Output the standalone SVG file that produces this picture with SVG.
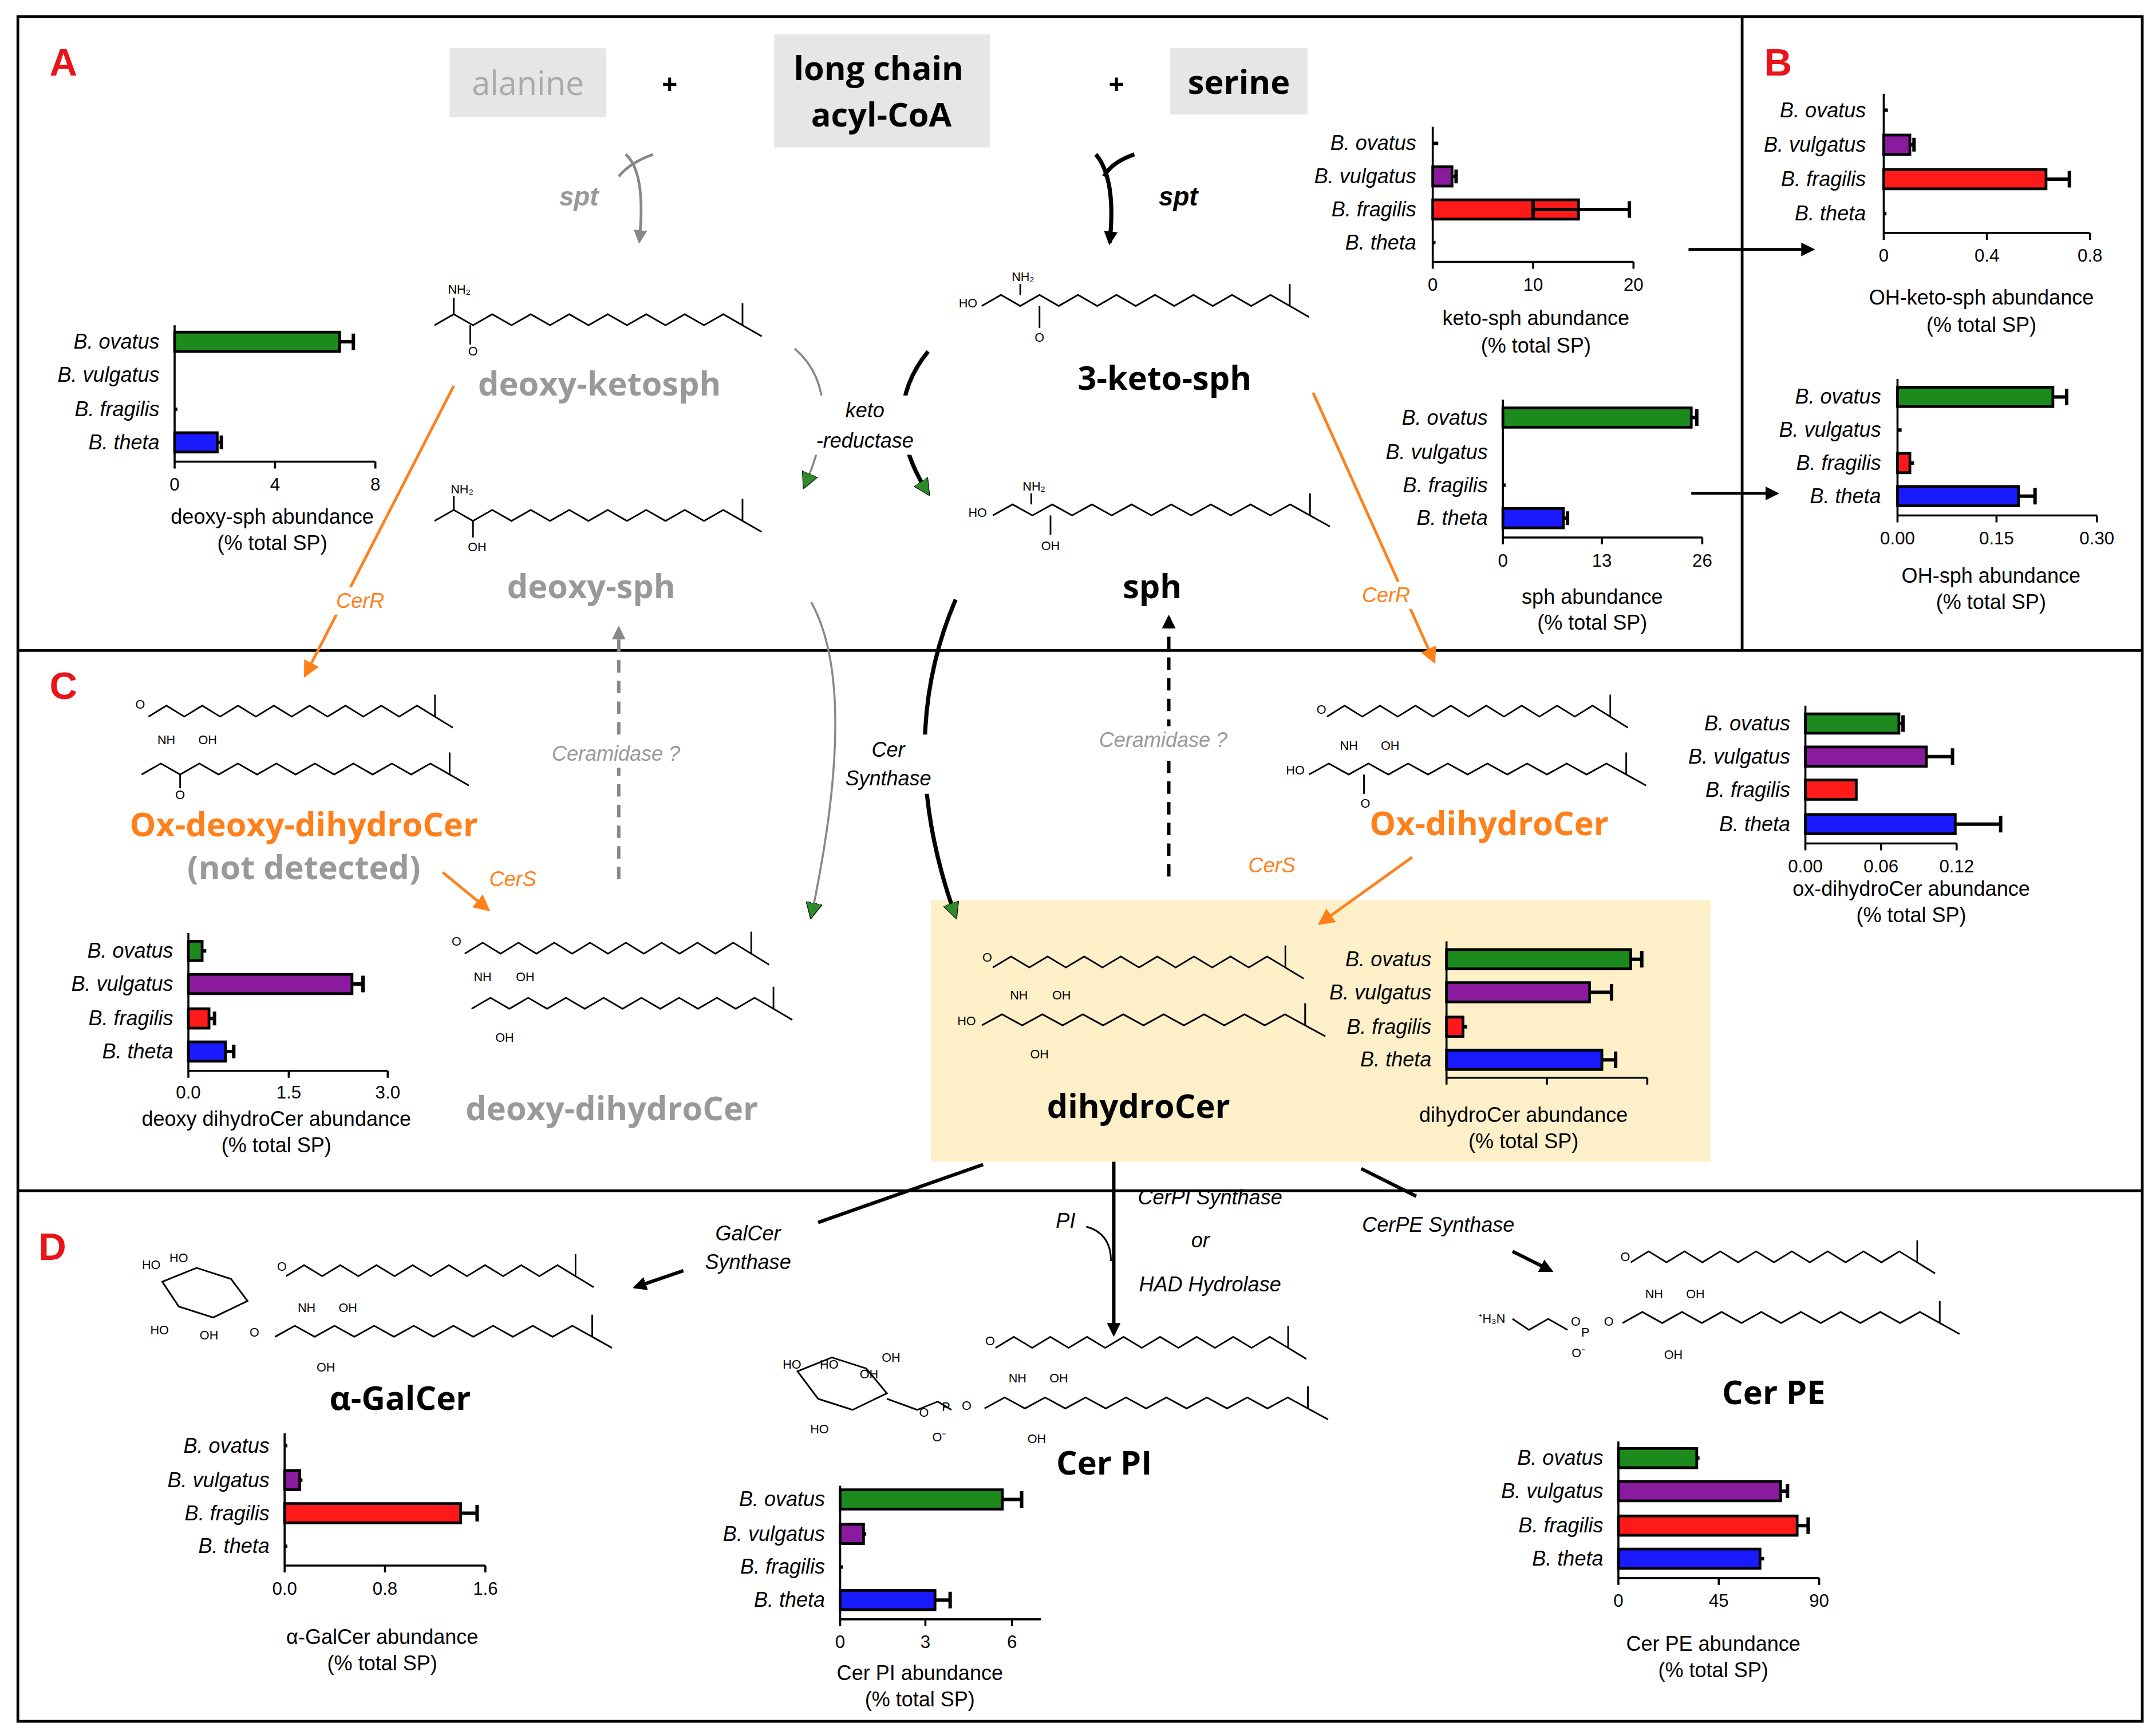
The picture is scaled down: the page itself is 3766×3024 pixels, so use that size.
<svg xmlns="http://www.w3.org/2000/svg" xmlns:xlink="http://www.w3.org/1999/xlink" width="3766" height="3024" viewBox="0 0 3766 3024">
<style>
.lb{font:italic 15px "Liberation Sans",Arial,sans-serif;text-anchor:end}
.tk{font:13px "Liberation Sans",Arial,sans-serif;text-anchor:middle}
.tt{font:15px "Liberation Sans",Arial,sans-serif;text-anchor:middle}
.ax{stroke:#000;stroke-width:1.5;fill:none}
.bar{stroke:#000;stroke-width:2}
.er{stroke:#000;stroke-width:2.5;fill:none}
.g{fill:#1d8a1d}.p{fill:#8a1a9e}.r{fill:#ff1a1a}.b{fill:#1a1aff}
.nm{font:bold 24px "Open Sans","DejaVu Sans",sans-serif;text-anchor:middle}
.pl{font:bold 28px "Liberation Sans",sans-serif}
.en{font:italic 15px "Liberation Sans",Arial,sans-serif;text-anchor:middle}
.sp{font:italic bold 19px "Liberation Sans",Arial,sans-serif;text-anchor:middle}
.at{font:9px "Liberation Sans",Arial,sans-serif;text-anchor:middle}
.ch{stroke:#000;stroke-width:1.2;fill:none}
.or{stroke:#ff7f1a;stroke-width:2;fill:none}
.wb{fill:#fff}
</style>
<defs>
<path id="c16" d="M0,0 l14,-8 14,8 14,-8 14,8 14,-8 14,8 14,-8 14,8 14,-8 14,8 14,-8 14,8 14,-8 14,8 14,-8 14,8 l0,-16 m0,16 l14,8" class="ch"/>
<marker id="ak" markerWidth="10" markerHeight="10" refX="8" refY="5" orient="auto" markerUnits="userSpaceOnUse"><path d="M0,0 L10,5 L0,10z" fill="#000"/></marker>
<marker id="ag" markerWidth="10" markerHeight="10" refX="8" refY="5" orient="auto" markerUnits="userSpaceOnUse"><path d="M0,0 L10,5 L0,10z" fill="#888"/></marker>
<marker id="ao" markerWidth="12" markerHeight="12" refX="10" refY="6" orient="auto" markerUnits="userSpaceOnUse"><path d="M0,0 L12,6 L0,12z" fill="#ff7f1a"/></marker>
<marker id="agr" markerWidth="12" markerHeight="12" refX="10" refY="6" orient="auto" markerUnits="userSpaceOnUse"><path d="M0,0 L12,6 L0,12z" fill="#2d8a2d" stroke="#000" stroke-width="0.5"/></marker>
</defs>
<rect width="3766" height="3024" fill="#fff"/>
<g transform="scale(2.4018,2.4076)">
<g id="frame" fill="none" stroke="#000" stroke-width="2">
<rect x="13" y="12" width="1545" height="1237"/>
<line x1="13" y1="472" x2="1558" y2="472"/><line x1="13" y1="864" x2="1558" y2="864"/><line x1="1267" y1="12" x2="1267" y2="472"/>
</g>
<g id="panels" fill="#e8141a" class="pl"><text x="36" y="55" class="pl">A</text><text x="1283" y="55" class="pl">B</text><text x="36" y="507" class="pl">C</text><text x="28" y="914" class="pl">D</text></g>
<rect x="677" y="653" width="567" height="190" fill="#fdf0c9"/>
<g id="reactants" font-family="Open Sans, DejaVu Sans, sans-serif" font-size="24" text-anchor="middle">
<rect x="327" y="35" width="114" height="50" fill="#e6e6e6"/><text x="384" y="69" fill="#aaa">alanine</text>
<text x="487" y="68" font-weight="bold" font-size="20">+</text>
<rect x="563" y="25" width="157" height="82" fill="#e6e6e6"/><text x="639" y="58" font-weight="bold">long chain</text><text x="641" y="92" font-weight="bold">acyl-CoA</text>
<text x="812" y="68" font-weight="bold" font-size="20">+</text>
<rect x="851" y="35" width="100" height="48" fill="#e6e6e6"/><text x="901" y="68" font-weight="bold">serine</text>
</g>
<g id="names">
<text x="436" y="287" class="nm" fill="#999">deoxy-ketosph</text>
<text x="847" y="283" class="nm">3-keto-sph</text>
<text x="430" y="434" class="nm" fill="#999">deoxy-sph</text>
<text x="838" y="434" class="nm">sph</text>
<text x="221" y="607" class="nm" fill="#ff7f1a">Ox-deoxy-dihydroCer</text>
<text x="221" y="638" class="nm" fill="#999" font-size="21">(not detected)</text>
<text x="1083" y="606" class="nm" fill="#ff7f1a">Ox-dihydroCer</text>
<text x="445" y="813" class="nm" fill="#999">deoxy-dihydroCer</text>
<text x="828" y="811" class="nm">dihydroCer</text>
<text x="291" y="1023" class="nm">α-GalCer</text>
<text x="803" y="1070" class="nm">Cer PI</text>
<text x="1290" y="1019" class="nm">Cer PE</text>
</g>
<g id="structures" class="at">
<use href="#c16" transform="translate(316,236)"/><line x1="330" y1="228" x2="330" y2="216" class="ch"/><text x="334" y="213">NH₂</text><line x1="342" y1="236" x2="342" y2="250" class="ch"/><text x="344" y="258">O</text>
<text x="704" y="223">HO</text><use href="#c16" transform="translate(714,222)"/><line x1="742" y1="214" x2="742" y2="206" class="ch"/><text x="744" y="204">NH₂</text><line x1="756" y1="222" x2="756" y2="238" class="ch"/><text x="756" y="248">O</text>
<use href="#c16" transform="translate(316,378)"/><line x1="330" y1="370" x2="330" y2="360" class="ch"/><text x="336" y="358">NH₂</text><line x1="344" y1="378" x2="344" y2="390" class="ch"/><text x="347" y="400">OH</text>
<text x="711" y="375">HO</text><use href="#c16" transform="translate(722,374) scale(1.03,1)"/><line x1="750" y1="366" x2="750" y2="358" class="ch"/><text x="752" y="356">NH₂</text><line x1="764" y1="374" x2="764" y2="388" class="ch"/><text x="764" y="399">OH</text>
<use href="#c16" transform="translate(108,520) scale(0.93,1)"/><text x="102" y="514">O</text><text x="121" y="540">NH</text><text x="151" y="540">OH</text><use href="#c16" transform="translate(103,562) scale(1.0,1)"/><line x1="131" y1="562" x2="131" y2="572" class="ch"/><text x="131" y="580">O</text>
<use href="#c16" transform="translate(338,692) scale(0.93,1)"/><text x="332" y="686">O</text><text x="351" y="712">NH</text><text x="382" y="712">OH</text><use href="#c16" transform="translate(343,732) scale(0.98,1)"/><text x="367" y="756">OH</text>
<use href="#c16" transform="translate(965,520) scale(0.92,1)"/><text x="961" y="518">O</text><text x="981" y="544">NH</text><text x="1011" y="544">OH</text><text x="942" y="562">HO</text><use href="#c16" transform="translate(952,562) scale(1.03,1)"/><line x1="992" y1="562" x2="992" y2="576" class="ch"/><text x="993" y="586">O</text>
<use href="#c16" transform="translate(722,702) scale(0.95,1)"/><text x="718" y="698">O</text><text x="741" y="725">NH</text><text x="772" y="725">OH</text><text x="703" y="744">HO</text><use href="#c16" transform="translate(714,744) scale(1.05,1)"/><text x="756" y="768">OH</text>
<use href="#c16" transform="translate(208,926) scale(0.94,1)"/><text x="205" y="922">O</text><text x="223" y="952">NH</text><text x="253" y="952">OH</text><use href="#c16" transform="translate(200,970) scale(1.03,1)"/><text x="237" y="995">OH</text><text x="185" y="970">O</text>
<path d="M118,930 l25,-10 25,8 l12,16 -25,12 -25,-8z" class="ch"/><text x="110" y="921">HO</text><text x="130" y="916">HO</text><text x="116" y="968">HO</text><text x="152" y="972">OH</text>
<use href="#c16" transform="translate(724,978) scale(0.95,1)"/><text x="720" y="976">O</text><text x="740" y="1003">NH</text><text x="770" y="1003">OH</text><use href="#c16" transform="translate(716,1022) scale(1.05,1)"/><text x="754" y="1047">OH</text>
<path d="M580,995 l25,-10 25,8 l15,18 -25,12 -25,-8z" class="ch"/><path d="M645,1015 l22,8 15,-6 10,6" class="ch"/><text x="576" y="993">HO</text><text x="603" y="993">HO</text><text x="632" y="1000">OH</text><text x="648" y="988">OH</text><text x="596" y="1040">HO</text><text x="672" y="1028">O</text><text x="688" y="1024">P</text><text x="683" y="1046">O⁻</text><text x="703" y="1023">O</text>
<use href="#c16" transform="translate(1186,916) scale(0.93,1)"/><text x="1182" y="915">O</text><text x="1203" y="942">NH</text><text x="1233" y="942">OH</text><use href="#c16" transform="translate(1180,960) scale(1.03,1)"/><text x="1217" y="986">OH</text>
<text x="1085" y="960">⁺H₃N</text><path d="M1100,957 l12,8 14,-8 14,8" class="ch"/><text x="1146" y="962">O</text><text x="1153" y="970">P</text><text x="1148" y="985">O⁻</text><text x="1170" y="962">O</text>
</g>
<g id="connectors" font-family="Liberation Sans, Arial, sans-serif">
<path d="M455,112 Q470,125 465,175" stroke="#888" stroke-width="2" fill="none" marker-end="url(#ag)"/><path d="M475,112 Q458,118 450,128" stroke="#888" stroke-width="2" fill="none"/>
<text x="421" y="149" class="sp" fill="#999">spt</text>
<path d="M797,112 Q812,130 807,176" stroke="#000" stroke-width="3" fill="none" marker-end="url(#ak)"/><path d="M825,112 Q808,118 803,128" stroke="#000" stroke-width="3" fill="none"/>
<text x="857" y="149" class="sp">spt</text>
<path d="M578,253 Q615,285 585,353" stroke="#888" stroke-width="1.5" fill="none" marker-end="url(#agr)"/>
<path d="M675,255 Q638,300 675,358" stroke="#000" stroke-width="3" fill="none" marker-end="url(#agr)"/>
<rect class="wb" x="592" y="287" width="72" height="43"/>
<text x="629" y="303" class="en">keto</text><text x="629" y="325" class="en">-reductase</text>
<path d="M590,437 Q625,500 590,665" stroke="#888" stroke-width="1.5" fill="none" marker-end="url(#agr)"/>
<path d="M695,435 Q650,540 695,665" stroke="#000" stroke-width="3" fill="none" marker-end="url(#agr)"/>
<rect class="wb" x="612" y="533" width="68" height="43"/>
<text x="646" y="549" class="en">Cer</text><text x="646" y="570" class="en">Synthase</text>
<line x1="330" y1="280" x2="222" y2="490" class="or" marker-end="url(#ao)"/><rect class="wb" x="243" y="426" width="38" height="20"/><text x="262" y="441" class="en" fill="#ff7f1a">CerR</text>
<line x1="955" y1="285" x2="1043" y2="480" class="or" marker-end="url(#ao)"/><rect class="wb" x="989" y="422" width="38" height="20"/><text x="1008" y="437" class="en" fill="#ff7f1a">CerR</text>
<line x1="322" y1="633" x2="355" y2="660" class="or" marker-end="url(#ao)"/><text x="373" y="643" class="en" fill="#ff7f1a">CerS</text>
<line x1="1027" y1="622" x2="960" y2="670" class="or" marker-end="url(#ao)"/><text x="925" y="633" class="en" fill="#ff7f1a">CerS</text>
<line x1="450" y1="638" x2="450" y2="456" stroke="#888" stroke-width="2.5" stroke-dasharray="9,6" marker-end="url(#ag)"/><rect class="wb" x="400" y="537" width="96" height="20"/><text x="448" y="552" class="en" fill="#999">Ceramidase ?</text>
<line x1="850" y1="636" x2="850" y2="448" stroke="#000" stroke-width="2.5" stroke-dasharray="9,6" marker-end="url(#ak)"/><rect class="wb" x="798" y="527" width="96" height="20"/><text x="846" y="542" class="en" fill="#999">Ceramidase ?</text>
<line x1="1228" y1="181" x2="1318" y2="181" stroke="#000" stroke-width="2" marker-end="url(#ak)"/>
<line x1="1230" y1="358" x2="1292" y2="358" stroke="#000" stroke-width="2" marker-end="url(#ak)"/>
<line x1="715" y1="845" x2="595" y2="887" stroke="#000" stroke-width="2.5"/><line x1="497" y1="922" x2="462" y2="934" stroke="#000" stroke-width="2.5" marker-end="url(#ak)"/>
<text x="544" y="900" class="en">GalCer</text><text x="544" y="921" class="en">Synthase</text>
<line x1="810" y1="843" x2="810" y2="968" stroke="#000" stroke-width="2.5" marker-end="url(#ak)"/>
<path d="M790,890 Q808,895 808,915" stroke="#000" stroke-width="1.2" fill="none"/><text x="775" y="891" class="en">PI</text>
<text x="880" y="874" class="en">CerPI Synthase</text><text x="873" y="905" class="en">or</text><text x="880" y="937" class="en">HAD Hydrolase</text>
<line x1="990" y1="848" x2="1030" y2="868" stroke="#000" stroke-width="2.5"/><line x1="1100" y1="908" x2="1128" y2="922" stroke="#000" stroke-width="2.5" marker-end="url(#ak)"/>
<text x="1046" y="894" class="en">CerPE Synthase</text>
</g>
<g id="chart-keto">
<text class="lb" x="1030" y="109">B. ovatus</text><text class="lb" x="1030" y="133">B. vulgatus</text><text class="lb" x="1030" y="157">B. fragilis</text><text class="lb" x="1030" y="181">B. theta</text>
<rect class="bar p" x="1042" y="121" width="14" height="14"/><rect class="bar r" x="1042" y="145" width="106" height="14"/>
<path class="er" d="M1042,104h4M1056,128h3v-5v10M1115,152h70M1185,146v12M1115,146v12M1042,176h2"/>
<path class="ax" d="M1042,92V190H1188M1042,190v5M1115,190v5M1188,190v5"/>
<text class="tk" x="1042" y="211">0</text><text class="tk" x="1115" y="211">10</text><text class="tk" x="1188" y="211">20</text>
<text class="tt" x="1117" y="236">keto-sph abundance</text><text class="tt" x="1117" y="256">(% total SP)</text>
</g>
<g id="chart-ohketo">
<text class="lb" x="1357" y="85">B. ovatus</text><text class="lb" x="1357" y="110">B. vulgatus</text><text class="lb" x="1357" y="135">B. fragilis</text><text class="lb" x="1357" y="160">B. theta</text>
<rect class="bar p" x="1370" y="98" width="19" height="14"/><rect class="bar r" x="1370" y="123" width="118" height="14"/>
<path class="er" d="M1370,80h3M1389,105h3v-5v10M1488,130h17M1505,124v12M1370,155h2"/>
<path class="ax" d="M1370,68V169H1520M1370,169v5M1445,169v5M1520,169v5"/>
<text class="tk" x="1370" y="190">0</text><text class="tk" x="1445" y="190">0.4</text><text class="tk" x="1520" y="190">0.8</text>
<text class="tt" x="1441" y="221">OH-keto-sph abundance</text><text class="tt" x="1441" y="241">(% total SP)</text>
</g>
<g id="chart-deoxysph">
<text class="lb" x="116" y="253">B. ovatus</text><text class="lb" x="116" y="277">B. vulgatus</text><text class="lb" x="116" y="302">B. fragilis</text><text class="lb" x="116" y="326">B. theta</text>
<rect class="bar g" x="127" y="241" width="120" height="14"/><rect class="bar b" x="127" y="314" width="31" height="14"/>
<path class="er" d="M247,248h10M257,242v12M158,321h3M161,316v10M127,297h2"/>
<path class="ax" d="M127,236V335H273M127,335v5M200,335v5M273,335v5"/>
<text class="tk" x="127" y="356">0</text><text class="tk" x="200" y="356">4</text><text class="tk" x="273" y="356">8</text>
<text class="tt" x="198" y="380">deoxy-sph abundance</text><text class="tt" x="198" y="399">(% total SP)</text>
</g>
<g id="chart-sph">
<text class="lb" x="1082" y="308">B. ovatus</text><text class="lb" x="1082" y="333">B. vulgatus</text><text class="lb" x="1082" y="357">B. fragilis</text><text class="lb" x="1082" y="381">B. theta</text>
<rect class="bar g" x="1093" y="296" width="137" height="14"/><rect class="bar b" x="1093" y="369" width="44" height="14"/>
<path class="er" d="M1230,303h4M1234,297v12M1137,376h3M1140,371v10M1093,352h2"/>
<path class="ax" d="M1093,290V390H1238M1093,390v5M1165,390v5M1238,390v5"/>
<text class="tk" x="1093" y="411">0</text><text class="tk" x="1165" y="411">13</text><text class="tk" x="1238" y="411">26</text>
<text class="tt" x="1158" y="438">sph abundance</text><text class="tt" x="1158" y="457">(% total SP)</text>
</g>
<g id="chart-ohsph">
<text class="lb" x="1368" y="293">B. ovatus</text><text class="lb" x="1368" y="317">B. vulgatus</text><text class="lb" x="1368" y="341">B. fragilis</text><text class="lb" x="1368" y="365">B. theta</text>
<rect class="bar g" x="1380" y="281" width="113" height="14"/><rect class="bar r" x="1380" y="329" width="9" height="14"/><rect class="bar b" x="1380" y="353" width="88" height="14"/>
<path class="er" d="M1493,288h10M1503,282v12M1380,312h3M1389,336h3M1468,360h12M1480,354v12"/>
<path class="ax" d="M1380,275V374H1525M1380,374v5M1452,374v5M1525,374v5"/>
<text class="tk" x="1380" y="395">0.00</text><text class="tk" x="1452" y="395">0.15</text><text class="tk" x="1525" y="395">0.30</text>
<text class="tt" x="1448" y="423">OH-sph abundance</text><text class="tt" x="1448" y="442">(% total SP)</text>
</g>
<g id="chart-oxdhc">
<text class="lb" x="1302" y="530">B. ovatus</text><text class="lb" x="1302" y="554">B. vulgatus</text><text class="lb" x="1302" y="578">B. fragilis</text><text class="lb" x="1302" y="603">B. theta</text>
<rect class="bar g" x="1313" y="518" width="68" height="14"/><rect class="bar p" x="1313" y="542" width="88" height="14"/><rect class="bar r" x="1313" y="566" width="37" height="14"/><rect class="bar b" x="1313" y="591" width="109" height="14"/>
<path class="er" d="M1381,525h3M1384,519v12M1401,549h19M1420,543v12M1422,598h33M1455,592v12"/>
<path class="ax" d="M1313,512V612H1423M1313,612v5M1368,612v5M1423,612v5"/>
<text class="tk" x="1313" y="633">0.00</text><text class="tk" x="1368" y="633">0.06</text><text class="tk" x="1423" y="633">0.12</text>
<text class="tt" x="1390" y="650">ox-dihydroCer abundance</text><text class="tt" x="1390" y="669">(% total SP)</text>
</g>
<g id="chart-deoxydhc">
<text class="lb" x="126" y="695">B. ovatus</text><text class="lb" x="126" y="719">B. vulgatus</text><text class="lb" x="126" y="744">B. fragilis</text><text class="lb" x="126" y="768">B. theta</text>
<rect class="bar g" x="137" y="683" width="10" height="14"/><rect class="bar p" x="137" y="707" width="119" height="14"/><rect class="bar r" x="137" y="732" width="15" height="14"/><rect class="bar b" x="137" y="756" width="27" height="14"/>
<path class="er" d="M147,690h3M256,714h8M264,708v12M152,739h4M156,734v10M164,763h6M170,758v10"/>
<path class="ax" d="M137,677V777H282M137,777v5M210,777v5M282,777v5"/>
<text class="tk" x="137" y="797">0.0</text><text class="tk" x="210" y="797">1.5</text><text class="tk" x="282" y="797">3.0</text>
<text class="tt" x="201" y="817">deoxy dihydroCer abundance</text><text class="tt" x="201" y="836">(% total SP)</text>
</g>
<g id="chart-dhc">
<text class="lb" x="1041" y="701">B. ovatus</text><text class="lb" x="1041" y="725">B. vulgatus</text><text class="lb" x="1041" y="750">B. fragilis</text><text class="lb" x="1041" y="774">B. theta</text>
<rect class="bar g" x="1052" y="689" width="134" height="14"/><rect class="bar p" x="1052" y="713" width="104" height="14"/><rect class="bar r" x="1052" y="738" width="12" height="14"/><rect class="bar b" x="1052" y="762" width="113" height="14"/>
<path class="er" d="M1186,696h8M1194,690v12M1156,720h16M1172,714v12M1064,745h3M1165,769h10M1175,763v12"/>
<path class="ax" d="M1052,683V782H1198M1052,782v5M1125,782v5M1198,782v5"/>
<text class="tt" x="1108" y="814">dihydroCer abundance</text><text class="tt" x="1108" y="833">(% total SP)</text>
</g>
<g id="chart-galcer">
<text class="lb" x="196" y="1054">B. ovatus</text><text class="lb" x="196" y="1079">B. vulgatus</text><text class="lb" x="196" y="1103">B. fragilis</text><text class="lb" x="196" y="1127">B. theta</text>
<rect class="bar p" x="207" y="1067" width="11" height="14"/><rect class="bar r" x="207" y="1091" width="128" height="14"/>
<path class="er" d="M207,1049h2M218,1074h2M335,1098h12M347,1092v12M207,1122h2"/>
<path class="ax" d="M207,1040V1136H353M207,1136v5M280,1136v5M353,1136v5"/>
<text class="tk" x="207" y="1157">0.0</text><text class="tk" x="280" y="1157">0.8</text><text class="tk" x="353" y="1157">1.6</text>
<text class="tt" x="278" y="1193">α-GalCer abundance</text><text class="tt" x="278" y="1212">(% total SP)</text>
</g>
<g id="chart-cerpi">
<text class="lb" x="600" y="1093">B. ovatus</text><text class="lb" x="600" y="1118">B. vulgatus</text><text class="lb" x="600" y="1142">B. fragilis</text><text class="lb" x="600" y="1166">B. theta</text>
<rect class="bar g" x="611" y="1081" width="118" height="14"/><rect class="bar p" x="611" y="1106" width="17" height="14"/><rect class="bar b" x="611" y="1154" width="69" height="14"/>
<path class="er" d="M729,1088h14M743,1082v12M628,1113h2M611,1137h2M680,1161h11M691,1155v12"/>
<path class="ax" d="M611,1078V1175H757M611,1175v5M673,1175v5M736,1175v5"/>
<text class="tk" x="611" y="1196">0</text><text class="tk" x="673" y="1196">3</text><text class="tk" x="736" y="1196">6</text>
<text class="tt" x="669" y="1219">Cer PI abundance</text><text class="tt" x="669" y="1238">(% total SP)</text>
</g>
<g id="chart-cerpe">
<text class="lb" x="1166" y="1063">B. ovatus</text><text class="lb" x="1166" y="1087">B. vulgatus</text><text class="lb" x="1166" y="1112">B. fragilis</text><text class="lb" x="1166" y="1136">B. theta</text>
<rect class="bar g" x="1177" y="1051" width="57" height="14"/><rect class="bar p" x="1177" y="1075" width="118" height="14"/><rect class="bar r" x="1177" y="1100" width="130" height="14"/><rect class="bar b" x="1177" y="1124" width="103" height="14"/>
<path class="er" d="M1234,1058h2M1295,1082h5M1300,1077v10M1307,1107h8M1315,1101v12M1280,1131h3"/>
<path class="ax" d="M1177,1046V1145H1323M1177,1145v5M1250,1145v5M1323,1145v5"/>
<text class="tk" x="1177" y="1166">0</text><text class="tk" x="1250" y="1166">45</text><text class="tk" x="1323" y="1166">90</text>
<text class="tt" x="1246" y="1198">Cer PE abundance</text><text class="tt" x="1246" y="1217">(% total SP)</text>
</g>
</g>
</svg>
